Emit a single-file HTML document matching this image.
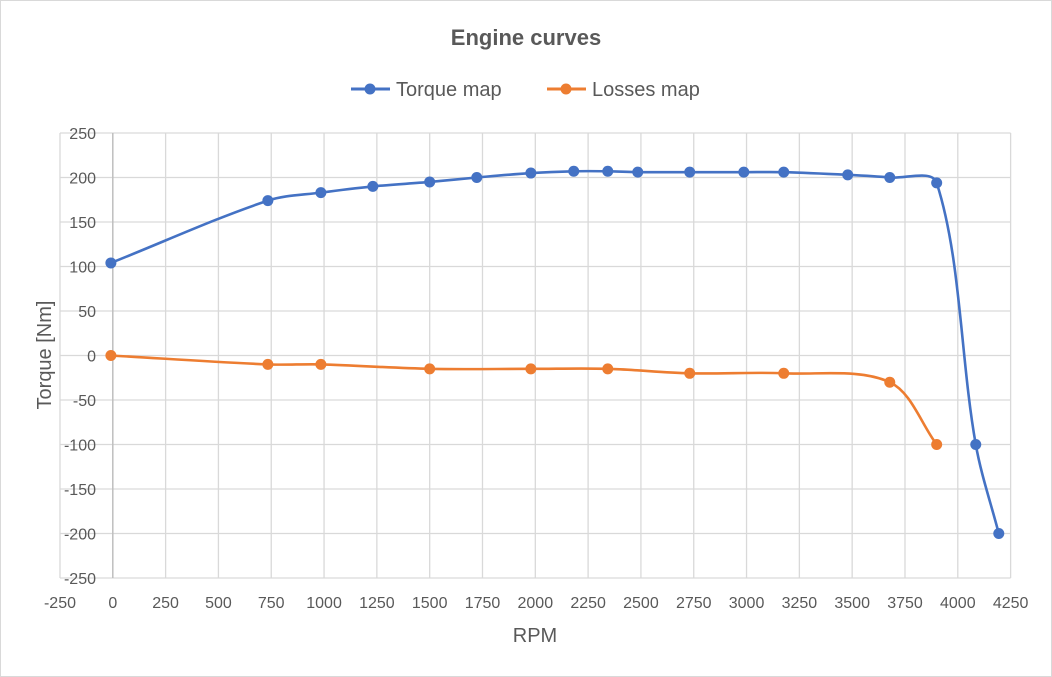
<!DOCTYPE html><html><head><style>body{margin:0;background:#fff}svg{display:block}text{font-family:"Liberation Sans",sans-serif;fill:#595959}</style></head><body>
<svg id="s" width="1052" height="677" viewBox="0 0 1052 677">
<rect x="0.5" y="0.5" width="1051" height="676" fill="#fff" stroke="#d9d9d9"/>
<g id="grid" stroke="#d9d9d9" stroke-width="1.3"></g>
<line x1="112.8" y1="133" x2="112.8" y2="578" stroke="#bfbfbf" stroke-width="1.5"/>
<g id="lab" font-size="16"></g>
<text x="526" y="45" text-anchor="middle" font-size="22" font-weight="bold">Engine curves</text>
<line x1="351" y1="89" x2="390" y2="89" stroke="#4472c4" stroke-width="3"/><circle cx="370" cy="89" r="5.5" fill="#4472c4"/>
<text x="396" y="96" font-size="20">Torque map</text>
<line x1="547" y1="89" x2="586" y2="89" stroke="#ed7d31" stroke-width="3"/><circle cx="566" cy="89" r="5.5" fill="#ed7d31"/>
<text x="592" y="96" font-size="20">Losses map</text>
<text transform="translate(51,355) rotate(-90)" text-anchor="middle" font-size="20">Torque [Nm]</text>
<text x="535" y="642" text-anchor="middle" font-size="20">RPM</text>
<g id="ser"></g>
</svg>
<script>
const NS="http://www.w3.org/2000/svg";
const X=v=>112.8+v*0.21125, Y=v=>355.5-v*0.89;
const g=document.getElementById('grid'),lab=document.getElementById('lab'),ser=document.getElementById('ser');
function el(p,t,a,txt){const e=document.createElementNS(NS,t);for(const k in a)e.setAttribute(k,a[k]);if(txt!=null)e.textContent=txt;p.appendChild(e);return e;}
for(let v=-250;v<=250;v+=50){el(g,'line',{x1:X(-250),x2:X(4250),y1:Y(v),y2:Y(v)});el(lab,'text',{x:96,y:Y(v)+6,'text-anchor':'end'},v);}
for(let v=-250;v<=4250;v+=250){el(g,'line',{x1:X(v),x2:X(v),y1:Y(250),y2:Y(-250)});el(lab,'text',{x:X(v),y:608,'text-anchor':'middle'},v);}
const D=(a,b)=>Math.hypot(a[0]-b[0],a[1]-b[1]);
function path(pts){const P=pts.map(p=>[X(p[0]),Y(p[1])]);const n=P.length,k=1/3;
const M=P.map((p,i)=>{const a=P[i-1]||p,b=P[i+1]||p;const s=D(a,p)+D(p,b);return [(b[0]-a[0])/s,(b[1]-a[1])/s];});
let d='M'+P[0];
for(let i=0;i<n-1;i++){const p1=P[i],p2=P[i+1],L=D(p1,p2);
d+=' C'+(p1[0]+M[i][0]*L*k)+','+(p1[1]+M[i][1]*L*k)+' '+(p2[0]-M[i+1][0]*L*k)+','+(p2[1]-M[i+1][1]*L*k)+' '+p2;}return d;}
function series(pts,c){el(ser,'path',{d:path(pts),fill:'none',stroke:c,'stroke-width':2.6});pts.forEach(p=>el(ser,'circle',{cx:X(p[0]),cy:Y(p[1]),r:5.5,fill:c}));}
series([[-9,104],[734,174],[985,183],[1231,190],[1500,195],[1723,200],[1979,205],[2182,207],[2343,207],[2485,206],[2731,206],[2987,206],[3176,206],[3479,203],[3678,200],[3900,194],[4085,-100],[4194,-200]],'#4472c4');
series([[-9,0],[734,-10],[985,-10],[1500,-15],[1979,-15],[2343,-15],[2731,-20],[3176,-20],[3678,-30],[3900,-100]],'#ed7d31');
</script></body></html>
